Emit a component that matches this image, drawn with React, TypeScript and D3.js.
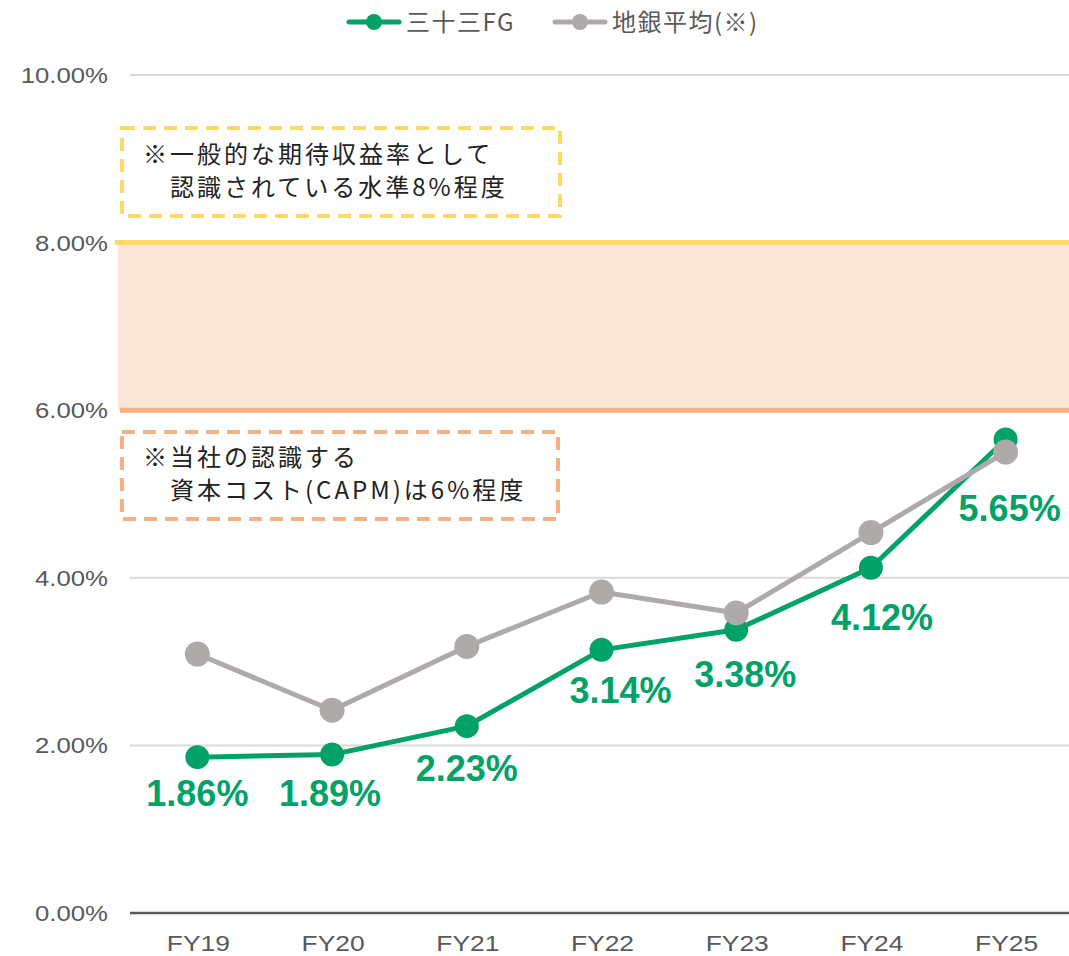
import * as d3 from "d3";
import React from "react";

// カテゴリと系列データ（単位：%）
const categories = ["FY19", "FY20", "FY21", "FY22", "FY23", "FY24", "FY25"];
const sanjusanValues = [1.86, 1.89, 2.23, 3.14, 3.38, 4.12, 5.65];
const chiginValues = [3.09, 2.42, 3.18, 3.83, 3.58, 4.54, 5.5];
const yTicks = [0, 2, 4, 6, 8, 10];
const capmLevel = 6;
const expectedLevel = 8;

const seriesNames = ["三十三FG", "地銀平均(※)"];
const noteExpected = ["※一般的な期待収益率として", "認識されている水準8%程度"];
const noteCapm = ["※当社の認識する", "資本コスト(CAPM)は6%程度"];

// ラベル位置の微調整（レイアウト用）
const labelDx = [0, -2, 0, 19, 9, 11, 4];
const labelDy = [49, 51, 55, 53, 57, 62, 81];

const GREEN = "#00A267";
const GRAY = "#AEAAAA";
const YELLOW = "#FFD966";
const ORANGE = "#F4B183";
const BAND = "#FBE5D6";
const TEXT = "#595959";
const JP = "'Noto Sans CJK JP', sans-serif";
const LAT = "'Liberation Sans', Arial, sans-serif";

export default function App() {
  const width = 1069;
  const height = 956;

  const x = d3.scaleBand().domain(categories).range([130, 1073]).padding(0);
  const y = d3.scaleLinear().domain([0, 10]).range([913, 75]);
  const cx = (c) => x(c) + x.bandwidth() / 2;

  const line = d3
    .line()
    .x((d) => cx(d[0]))
    .y((d) => y(d[1]));

  const greenPts = categories.map((c, i) => [c, sanjusanValues[i]]);
  const grayPts = categories.map((c, i) => [c, chiginValues[i]]);

  const noteStyle = { fontFamily: JP, fontSize: 24, letterSpacing: 3, fill: "#222" };

  return (
    <svg
      width={width}
      height={height}
      style={{ position: "absolute", left: 0, top: 0, background: "#fff" }}
    >
      {/* 6%〜8%の帯 */}
      <rect
        x={118}
        y={y(expectedLevel)}
        width={width - 118}
        height={y(capmLevel) - y(expectedLevel)}
        fill={BAND}
      />

      {/* 目盛線 */}
      {yTicks.map((t) => {
        if (t === 0 || t === capmLevel || t === expectedLevel) return null;
        return (
          <line
            key={t}
            x1={130}
            x2={width}
            y1={y(t)}
            y2={y(t)}
            stroke="#D9D9D9"
            strokeWidth={2}
          />
        );
      })}
      <line x1={115} x2={width} y1={y(expectedLevel)} y2={y(expectedLevel)} stroke={YELLOW} strokeWidth={5} />
      <line x1={120} x2={width} y1={y(capmLevel)} y2={y(capmLevel)} stroke={ORANGE} strokeWidth={5} />
      <line x1={130} x2={width} y1={y(0)} y2={y(0)} stroke="#595959" strokeWidth={2.5} />

      {/* y軸ラベル */}
      {yTicks.map((t) => (
        <text
          key={t}
          transform={`translate(108, ${y(t) + 8}) scale(1.17, 1)`}
          textAnchor="end"
          fontFamily={LAT}
          fontSize={22}
          fill={TEXT}
        >
          {t.toFixed(2)}%
        </text>
      ))}

      {/* x軸ラベル */}
      {categories.map((c) => (
        <text
          key={c}
          transform={`translate(${cx(c) + 1}, 951) scale(1.2, 1)`}
          textAnchor="middle"
          fontFamily={LAT}
          fontSize={22}
          fill={TEXT}
        >
          {c}
        </text>
      ))}

      {/* 注記ボックス */}
      <rect x={122} y={128} width={438} height={88} fill="none" stroke={YELLOW} strokeWidth={4} strokeDasharray="13 8" />
      <text x={143} y={163} {...noteStyle}>
        {noteExpected[0]}
      </text>
      <text x={170} y={196} {...noteStyle}>
        {noteExpected[1]}
      </text>
      <rect x={122} y={432} width={436} height={87} fill="none" stroke={ORANGE} strokeWidth={4} strokeDasharray="13 8" />
      <text x={143} y={466} {...noteStyle}>
        {noteCapm[0]}
      </text>
      <text x={170} y={499} {...noteStyle}>
        {noteCapm[1]}
      </text>

      {/* 三十三FG */}
      <path d={line(greenPts)} fill="none" stroke={GREEN} strokeWidth={5} strokeLinejoin="round" />
      {greenPts.map((d, i) => (
        <circle key={i} cx={cx(d[0])} cy={y(d[1])} r={12} fill={GREEN} />
      ))}

      {/* 地銀平均 */}
      <path d={line(grayPts)} fill="none" stroke={GRAY} strokeWidth={5} strokeLinejoin="round" />
      {grayPts.map((d, i) => (
        <circle key={i} cx={cx(d[0])} cy={y(d[1])} r={12.5} fill={GRAY} />
      ))}

      {/* データラベル */}
      {greenPts.map((d, i) => (
        <text
          key={i}
          x={cx(d[0]) + labelDx[i]}
          y={y(d[1]) + labelDy[i]}
          textAnchor="middle"
          fontFamily={LAT}
          fontWeight="bold"
          fontSize={36}
          fill={GREEN}
        >
          {d[1].toFixed(2)}%
        </text>
      ))}

      {/* 凡例 */}
      <line x1={349} x2={399} y1={22} y2={22} stroke={GREEN} strokeWidth={5} strokeLinecap="round" />
      <circle cx={374} cy={22} r={8} fill={GREEN} />
      <text x={406} y={31} fontFamily={JP} fontSize={24} letterSpacing={1.5} fill={TEXT}>
        {seriesNames[0]}
      </text>
      <line x1={555} x2={605} y1={22} y2={22} stroke={GRAY} strokeWidth={5} strokeLinecap="round" />
      <circle cx={580} cy={22} r={8} fill={GRAY} />
      <text x={612} y={31} fontFamily={JP} fontSize={24} letterSpacing={1.5} fill={TEXT}>
        {seriesNames[1]}
      </text>
    </svg>
  );
}
